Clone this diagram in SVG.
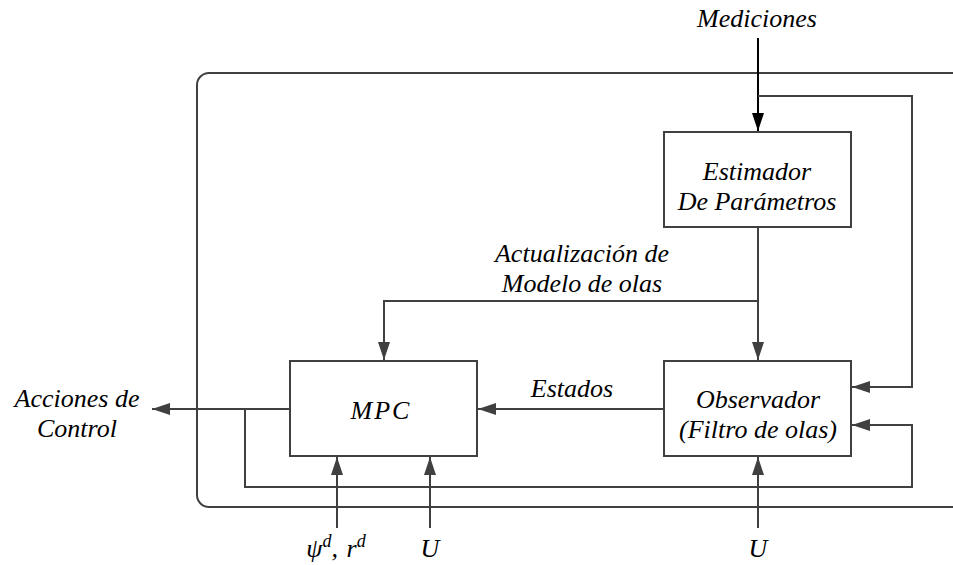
<svg xmlns="http://www.w3.org/2000/svg" width="953" height="565" viewBox="0 0 953 565">
<defs>
<style>
.box{fill:#fff;stroke:#404040;stroke-width:2}
.ln{fill:none;stroke:#404040;stroke-width:2}
.lk{fill:none;stroke:#000;stroke-width:2}
.t{font-family:"Liberation Serif","Times New Roman",serif;font-style:italic;font-size:26px;fill:#000;text-anchor:middle}
</style>
<marker id="a" markerUnits="userSpaceOnUse" markerWidth="18" markerHeight="12" refX="18" refY="6" orient="auto">
<path d="M0,0 L18,6 L0,12 z" fill="#404040"/>
</marker>
<marker id="ak" markerUnits="userSpaceOnUse" markerWidth="18" markerHeight="12" refX="18" refY="6" orient="auto">
<path d="M0,0 L18,6 L0,12 z" fill="#000"/>
</marker>
</defs>
<rect width="953" height="565" fill="#fff"/>
<rect id="frame" x="197" y="73" width="770" height="434" rx="12" ry="12" class="ln"/>

<g id="connectors">
<path class="lk" d="M758,38 L758,131" marker-end="url(#ak)"/>
<path class="ln" d="M758,96 L912,96 L912,387 L852,387" marker-end="url(#a)"/>
<path class="ln" d="M758,227 L758,360" marker-end="url(#a)"/>
<path class="ln" d="M758,301 L384,301 L384,360" marker-end="url(#a)"/>
<path class="ln" d="M664,409 L478,409" marker-end="url(#a)"/>
<path class="ln" d="M290,409 L152,409" marker-end="url(#a)"/>
<path class="ln" d="M245,409 L245,487 L912,487 L912,425 L852,425" marker-end="url(#a)"/>
<path class="ln" d="M337,528 L337,457" marker-end="url(#a)"/>
<path class="ln" d="M430,528 L430,457" marker-end="url(#a)"/>
<path class="ln" d="M758,528 L758,457" marker-end="url(#a)"/>
</g>

<g id="estimador">
<rect class="box" x="664" y="132" width="187" height="95"/>
<text class="t" x="757" y="180">Estimador</text>
<text class="t" x="757" y="210">De Parámetros</text>
</g>
<g id="mpc">
<rect class="box" x="290" y="361" width="187" height="95"/>
<text class="t" x="381" y="419" letter-spacing="2">MPC</text>
</g>
<g id="observador">
<rect class="box" x="664" y="361" width="187" height="95"/>
<text class="t" x="758" y="408">Observador</text>
<text class="t" x="758" y="438">(Filtro de olas)</text>
</g>

<g id="labels">
<text class="t" x="757" y="27">Mediciones</text>
<text class="t" x="582" y="262">Actualización de</text>
<text class="t" x="582" y="292">Modelo de olas</text>
<text class="t" x="572" y="397">Estados</text>
<text class="t" x="77" y="407">Acciones de</text>
<text class="t" x="77" y="437">Control</text>
<text class="t" x="336" y="557">ψ<tspan font-size="18" dy="-10">d</tspan><tspan dy="10">, </tspan><tspan dx="2">r</tspan><tspan font-size="18" dy="-10">d</tspan></text>
<text class="t" x="430" y="557">U</text>
<text class="t" x="758" y="557">U</text>
</g>
</svg>
